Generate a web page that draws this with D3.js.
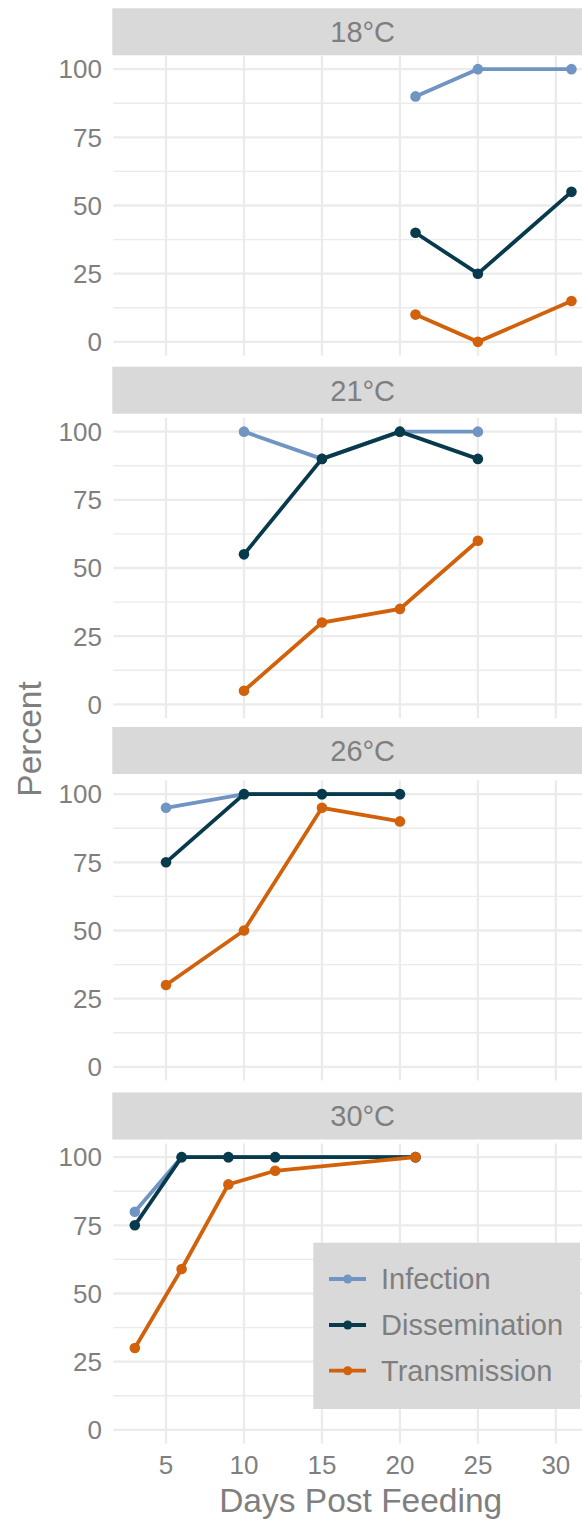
<!DOCTYPE html>
<html>
<head>
<meta charset="utf-8">
<script src="https://cdn.jsdelivr.net/npm/d3@7"></script>
<style>
  body { margin: 0; background: #fff; }
  text { font-family: 'Liberation Sans', Arial, sans-serif; fill: #7f7f7f; }
</style>
</head>
<body>
<svg id="chart" width="582" height="1521"></svg>
<script>
var facets = ['18°C', '21°C', '26°C', '30°C'];
var seriesNames = ['Infection', 'Dissemination', 'Transmission'];
var seriesColors = ['#7195c3', '#073b4c', '#d2610b'];

var days18 = [21, 25, 31];
var infection18 = [90, 100, 100];
var dissemination18 = [40, 25, 55];
var transmission18 = [10, 0, 15];

var days21 = [10, 15, 20, 25];
var infection21 = [100, 90, 100, 100];
var dissemination21 = [55, 90, 100, 90];
var transmission21 = [5, 30, 35, 60];

var days26 = [5, 10, 15, 20];
var infection26 = [95, 100, 100, 100];
var dissemination26 = [75, 100, 100, 100];
var transmission26 = [30, 50, 95, 90];

var days30 = [3, 6, 9, 12, 21];
var infection30 = [80, 100, 100, 100, 100];
var dissemination30 = [75, 100, 100, 100, 100];
var transmission30 = [30, 59, 90, 95, 100];

var xTicks = [5, 10, 15, 20, 25, 30];
var yTicks = [0, 25, 50, 75, 100];
var yMinor = [12.5, 37.5, 62.5, 87.5];

var panelData = [
  { days: days18, values: [infection18, dissemination18, transmission18] },
  { days: days21, values: [infection21, dissemination21, transmission21] },
  { days: days26, values: [infection26, dissemination26, transmission26] },
  { days: days30, values: [infection30, dissemination30, transmission30] }
];

var panelLeft = 113.3, panelRight = 612, panelHeight = 300;
var panelTops = [55.5, 418, 780.5, 1143.5];
var stripTops = [8.3, 366.7, 727, 1092.5];
var stripHeight = 47;

var svg = d3.select('#chart');
var x = d3.scaleLinear().domain([1.62, 33.6]).range([panelLeft, panelRight]);

facets.forEach(function(label, i) {
  var top = panelTops[i];
  var y = d3.scaleLinear().domain([-5, 105]).range([top + panelHeight, top]);
  var g = svg.append('g');

  // strip
  g.append('rect').attr('x', panelLeft - 1).attr('y', stripTops[i])
                  .attr('width', panelRight - panelLeft).attr('height', stripHeight)
                  .attr('fill', '#d9d9d9');
  g.append('text').attr('x', (panelLeft + panelRight) / 2).attr('y', stripTops[i] + stripHeight / 2)
                  .attr('dy', '0.36em').attr('text-anchor', 'middle')
                  .attr('font-size', 29).text(label);

  // grid
  g.selectAll().data(yMinor).enter().append('line')
   .attr('x1', panelLeft).attr('x2', panelRight)
   .attr('y1', d => y(d)).attr('y2', d => y(d))
   .attr('stroke', '#ebebeb').attr('stroke-width', 1.3);
  g.selectAll().data(yTicks).enter().append('line')
   .attr('x1', panelLeft).attr('x2', panelRight)
   .attr('y1', d => y(d)).attr('y2', d => y(d))
   .attr('stroke', '#ebebeb').attr('stroke-width', 2.3);
  g.selectAll().data(xTicks).enter().append('line')
   .attr('x1', d => x(d)).attr('x2', d => x(d))
   .attr('y1', top).attr('y2', top + panelHeight)
   .attr('stroke', '#ebebeb').attr('stroke-width', 2.3);

  // y tick labels
  g.selectAll().data(yTicks).enter().append('text')
   .attr('x', 102).attr('y', d => y(d)).attr('dy', '0.36em')
   .attr('text-anchor', 'end').attr('font-size', 26).text(d => d);

  // series
  var pd = panelData[i];
  pd.values.forEach(function(vals, s) {
    var pts = pd.days.map((d, k) => [d, vals[k]]);
    g.append('path').datum(pts)
     .attr('d', d3.line().x(p => x(p[0])).y(p => y(p[1])))
     .attr('fill', 'none').attr('stroke', seriesColors[s]).attr('stroke-width', 3.8);
    g.selectAll().data(pts).enter().append('circle')
     .attr('cx', p => x(p[0])).attr('cy', p => y(p[1])).attr('r', 5.3)
     .attr('fill', seriesColors[s]);
  });
});

// x tick labels
svg.append('g').selectAll().data(xTicks).enter().append('text')
   .attr('x', d => x(d)).attr('y', 1474)
   .attr('text-anchor', 'middle').attr('font-size', 26).text(d => d);

// axis titles
svg.append('text').attr('x', 360.7).attr('y', 1511.5).attr('text-anchor', 'middle')
                  .attr('font-size', 33.5).text('Days Post Feeding');
svg.append('text').attr('transform', 'translate(40.5,739) rotate(-90)')
                  .attr('text-anchor', 'middle').attr('font-size', 33.5).text('Percent');

// legend
var legend = svg.append('g');
legend.append('rect').attr('x', 313.3).attr('y', 1242.7).attr('width', 266.7).attr('height', 166.3)
                     .attr('fill', '#d9d9d9');
var legendRows = [1279, 1325, 1370.7];
seriesNames.forEach(function(name, s) {
  legend.append('line').attr('x1', 329).attr('x2', 366)
        .attr('y1', legendRows[s]).attr('y2', legendRows[s])
        .attr('stroke', seriesColors[s]).attr('stroke-width', 3.8);
  legend.append('circle').attr('cx', 347.7).attr('cy', legendRows[s]).attr('r', 4.5)
        .attr('fill', seriesColors[s]);
  legend.append('text').attr('x', 381).attr('y', legendRows[s]).attr('dy', '0.36em')
        .attr('font-size', 29).text(name);
});
</script>
</body>
</html>
